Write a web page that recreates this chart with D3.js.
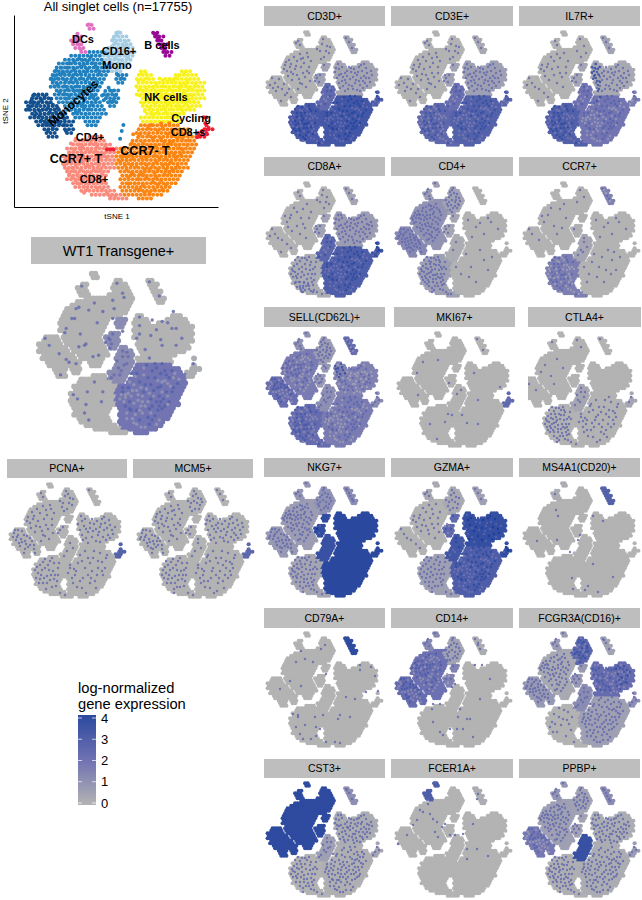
<!DOCTYPE html>
<html>
<head>
<meta charset="utf-8">
<script src="https://cdn.jsdelivr.net/npm/d3@7"></script>
<style>
  body { margin: 0; background: white; }
  text { font-family: "Liberation Sans", Arial, sans-serif; fill: black; }
</style>
</head>
<body>
<div id="wrapper"></div>
<script>
// tSNE map, one character per patch of cells
// l left monocytes, m monocytes, i CD16+ mono, j small island, d DCs, b B cells,
// n NK, s spike next to the T cells, c cycling CD8+, r CCR7+ T, o CCR7- T
const cellRows = [
  "...............dd",
  "...............dd",
  "......................ii.......bb",
  "............dd.......iiii......bbb",
  "...........ddd.......iiiii......bb",
  "...........ddd.......iiiii......bbb",
  "............ddd.....iiiiiii......bb",
  ".............ddmmmmmiiiiiii......bbb",
  "...........mmmmmmmmiiiiiiii.......bb",
  ".........mmmmmmmmmmiiiiiii",
  "........mmmmmmmmmmmmiiiiii",
  ".......mmmmmmmmmmmmmmiiii",
  ".......mmmmmmmmmmmmmmiii....nn........nnn",
  "......mmmmmmmmmmmmmm..jjj..nnnn.....nnnnnn",
  "......mmmmmmmmmmmmmm..jjj..nnnnn..nnnnnnnnn",
  "......mmmmmmmmmmmmm...jj...nnnnnnnnnnnnnnnnn",
  "......mmmmmmmmmmmmm........nnnnnnnnnnnnnnnnn",
  ".......mmmmmmmmmmm..jjj....nnnnnnnnnnnnnnnnn",
  "..llll.mmmmmmmmmmm.jjjj....nnnnnnnnnnnnnnnnn",
  ".lllll.mmmmmmmmmmm.jjjj.....nnnnnnnnnnnnnnnn",
  "lllllll.mmmmmmmmmmm.jjj.....nnnnnnnnnnnnnnn",
  "llllllll.mmmmmmmmmm.jj.ss...nnnnnnnnnnnnnnn",
  "lllllllll.mmmmmmmmmm...ssss..nnnnnnnnnnnnn",
  ".lllllllll.mmmmmmmmm..sssss..nnnnnnnnnn",
  ".llllllllll.mmmmmmm...sssss.nnnnnnnnnn......c",
  "..llllllllll..mmmm....sssss.nnnnnnnnnn",
  "...lllllllll...mmm....sssss.oooooooooo......c",
  "....llll.lll.........sssss.ooooooooooooo...ccc",
  ".....lll..ll........ssssss.oooooooooooooo.ccc",
  ".....lll.......rrrr.sssss..ooooooooooooooocc",
  "............rrrrrrrrsssss.oooooooooooooooo",
  "...........rrrrrrrrrrsss.ooooooooooooooooo",
  "..........rrrrrrrrrrrrrooooooooooooooooooo",
  "..........rrrrrrrrrrrrooooooooooooooooooo",
  ".........rrrrrrrrrrrrrooooooooooooooooooo",
  ".........rrrrrrrrrrrrroooooooooooooooooo",
  ".........rrrrrrrrrrrrroooooooooooooooooo",
  ".........rrrrrrrrrrrrroooooooooooooooooo",
  "..........rrrrrrrrrrr..oooooooooooooooo",
  "..........rrrrrrrrrr...ooooooooooooooo",
  "..........rrrrrrrrrr...ooooooooooooooo",
  "...........rrrrrrrrr...oooooooooooooo",
  "............rrrrrrrrr..ooooooooooooo",
  ".............rrrrrrrrr.oooooooooooo",
  "................rrrrrrrroooooooooo",
  "....................rrrrr..oooo",
]

const regionKeys = ["l", "m", "i", "j", "d", "b", "n", "s", "c", "r", "o"]
const regionColors = ["#13508f", "#2180bd", "#a4cde4", "#2180bd", "#e070c0", "#960a96", "#f8f21c", "#2180bd", "#f21c34", "#f98a7c", "#fb8512"]

// approximate positions of positive cells in each cluster, x,y in small panel pixels
const speckleL = [8,52,15,58,5,47,20,62,11,56,24,66,14,70,3,54,17,53,9,60,22,58,12,48,6,57,18,64,14,52,25,70,10,63,4,50,20,55,15,66,8,47,12,59,24,62,16,61,7,54,19,58,13,65,2,56,10,50,21,65,16,49,6,60,14,55,17,68,9,57,23,60,11,66,5,52,18,56,13,62]
const speckleM = [24,33,36,27,30,44,42,36,20,40,33,52,40,22,27,26,38,46,18,34,34,36,25,49,44,30,30,30,21,45,39,56,23,36,36,42,33,23,42,42,28,38,17,38,37,32,32,48,26,43,43,50,31,58,41,26,22,29,35,53,19,31,29,35,40,40,34,28,24,41,37,59,45,33,27,47,32,41,38,25,16,36,42,47,30,25,23,32,36,50,28,53,34,33,39,35,20,36,35,45,26,29,41,53,31,37,25,37,44,38,37,38,29,42,33,57,21,33,38,30,27,33,35,24,40,48,24,46,31,33,43,28,30,51,18,41,36,55,33,44]
const speckleI = [56,8,60,15,53,20,62,22,57,26,55,13,50,18,59,20,63,16,54,28,58,11,52,24,61,26,56,18,64,19,53,15,59,24,57,6,51,22,61,12,55,23,60,18,56,30,63,23,54,10,58,16,52,17,62,14,57,21,59,28]
const speckleJ = [50,47,53,44,48,50,52,51,57,34,49,44,55,47,51,42,59,36,54,50,47,47,56,33]
const speckleD = [31,10,33,14,29,12,39,1,32,7,34,17,30,9,32,12]
const speckleB = [79,7,82,11,85,17,80,8,83,14,86,19,81,10,84,15]
const speckleN = [80,45,95,40,72,38,88,52,102,47,76,55,92,36,84,41,98,52,70,47,86,58,100,42,78,49,94,47,74,43,90,44,82,54,105,44,96,57,72,52,87,38,68,41,93,54,78,60,99,37,83,48,75,36,90,59,103,51,80,40,97,45,71,33,86,46,76,46,94,34,89,49,82,36,100,55,73,57,91,41,78,42,104,40,85,55,96,50,69,37,88,42,81,58,93,60,75,50,99,47,84,37,72,44,92,50,97,33,79,52,87,61,102,43,74,33,90,37,83,44,77,58,95,55,70,43,86,52,100,50,81,46,94,42,89,56,73,48,98,40]
const speckleS = [60,60,57,68,63,65,54,73,60,56,59,70,64,60,56,63,52,75,61,66,58,73,63,57,56,70,60,63]
const speckleC = [110,65,108,70,112,68,106,73,109,61,111,72,105,74,110,69]
const speckleR = [35,85,45,92,28,90,40,78,33,100,48,85,30,82,42,104,37,93,26,95,44,80,50,110,35,76,47,98,31,92,39,87,29,100,43,88,36,106,25,87,48,92,33,79,40,97,55,112,38,82,27,84,46,103,34,95,42,75,30,96,44,96,37,100,49,80,32,87,41,92,36,110,28,78,46,87,39,104,24,92,33,104,45,100,31,75,43,83,35,90,47,108,29,94,38,76,41,101,26,89,34,82,50,87,37,97,44,107,30,86,42,95,32,98,48,102,36,88,40,83,27,98,46,95,38,108,33,91,43,78,31,102,39,93,35,80,52,112,45,85]
const speckleO = [75,85,88,78,65,92,92,88,70,72,80,100,60,85,96,75,84,68,73,95,87,92,68,80,78,75,63,100,90,70,82,88,72,105,58,90,95,85,76,110,85,98,66,88,80,80,92,79,70,98,88,85,62,95,75,68,83,75,67,104,93,92,78,92,60,82,86,105,72,78,97,72,81,95,64,86,90,95,74,88,79,108,69,74,85,82,94,81,66,98,77,83,88,65,71,91,83,102,62,89,99,79,74,100,87,72,67,84,91,85,76,95,81,70,65,78,84,92,70,108,93,75,73,82,78,103,59,87,88,97,68,93,82,84,75,73,86,88,63,104,96,82,71,87,79,97,90,77,66,72,84,108,77,66,61,92,89,90,73,110,95,70,69,101,80,90,85,77,64,82,92,94,76,80,72,98,87,81,68,107,83,65,79,86,91,73,74,92,65,97,100,76,81,105,70,84,86,95,62,87]
const speckleLists = [speckleL, speckleM, speckleI, speckleJ, speckleD, speckleB, speckleN, speckleS, speckleC, speckleR, speckleO]

const geneNames = ["CD3D+", "CD3E+", "IL7R+", "CD8A+", "CD4+", "CCR7+", "SELL(CD62L)+", "MKI67+", "CTLA4+", "NKG7+", "GZMA+", "MS4A1(CD20)+", "CD79A+", "CD14+", "FCGR3A(CD16)+", "CST3+", "FCER1A+", "PPBP+", "PCNA+", "MCM5+", "WT1 Transgene+"]

// expression level of the cluster as a whole, same order as regionKeys
const geneFill = [
  [0,0,0,.5,0,.5,.4,2.4,3,3.2,3.3],
  [0,0,0,.5,0,.3,.6,2.2,2.6,2.5,2.8],
  [0,0,0,.4,0,.5,.3,2,1.6,2.9,1.9],
  [0,0,0,.5,0,.4,.7,2.6,3.5,.2,3],
  [1.3,1,.5,.4,.7,0,0,.2,0,.6,0],
  [0,0,0,.1,0,1.5,0,.4,0,1.6,0],
  [2.2,1.7,.7,.8,1,2.2,1.5,1.1,1.2,2.3,1.7],
  [0,0,0,0,0,0,0,0,2.4,0,0],
  [0,0,0,0,0,0,0,.4,.4,0,0],
  [.8,.7,1,3.8,.9,1.2,4,3.6,4,.4,4],
  [0,0,.3,2.4,.3,.6,3.7,3.3,3.8,.6,3],
  [0,0,0,0,.2,2.8,0,0,0,0,0],
  [0,0,0,0,0,3.9,0,0,0,0,0],
  [2.3,2.1,.5,1.5,1.3,.2,0,0,0,0,0],
  [.8,.3,2.6,.8,.7,.5,2.3,1.2,1.1,0,.6],
  [3.9,3.9,3.9,3.9,3.9,1.1,.2,.6,.4,0,.1],
  [0,0,0,0,3,.2,0,0,0,0,0],
  [1.8,.6,.5,.5,.9,1.2,.2,3.6,.7,.1,.2],
  [0,0,0,0,0,0,0,0,2.8,0,0],
  [0,0,0,0,0,0,0,0,2.5,0,0],
  [0,0,0,1.2,0,0,0,1.2,.2,0,1.9],
]

// how many single positive cells stand out in each cluster
const geneSpeckle = [
  [14,35,10,6,3,3,55,12,6,70,100],
  [12,30,10,6,3,3,55,12,6,70,100],
  [8,22,5,5,2,3,50,12,5,70,100],
  [8,18,8,6,2,3,60,12,6,50,100],
  [40,70,25,6,6,0,8,2,0,70,10],
  [3,10,3,1,0,6,8,6,0,70,16],
  [40,70,25,10,6,8,70,10,5,70,100],
  [0,0,0,0,0,0,0,0,0,0,0],
  [2,6,2,0,1,1,0,8,2,65,50],
  [30,65,20,4,4,6,0,0,0,55,0],
  [6,26,14,8,3,3,40,6,3,45,100],
  [0,0,0,0,0,0,0,0,0,0,0],
  [0,0,0,0,0,0,0,0,0,0,0],
  [40,70,20,8,5,2,0,0,0,0,0],
  [35,60,25,8,5,4,70,10,5,18,85],
  [0,0,0,0,0,4,68,10,4,55,95],
  [0,0,0,0,0,0,0,0,0,0,0],
  [40,65,22,8,5,6,65,0,4,60,90],
  [25,30,12,3,2,1,40,4,0,35,38],
  [28,35,15,4,2,3,45,5,0,40,45],
  [4,8,3,4,1,1,10,12,1,5,100],
]

// single cells that can be read in the sparse panels
const extraDots = {
  "IL7R+": [68,36,70,40,72,33,74,38,70,45,73,50,68,42,75,44,72,47,76,36,74,54,71,37,69,48,73,41,76,51,74,60,76,66,73,70,71,44,75,58],
  "CD8A+": [32,100,36,104,30,105,38,108,41,103,34,108,44,109,28,101,37,101,42,107,33,106,46,110,35,110],
  "SELL(CD62L)+": [68,34,71,36,74,32,70,40,73,42,76,38,69,37,72,45,75,35,78,41],
  "MKI67+": [25,30,40,28,19,41,76,41,51,51,20,63,63,58,59,62,80,68,32,92,54,83,64,83,69,91,80,92,39,107,102,55,79,7,85,18,47,90,50,82],
  "MS4A1(CD20)+": [32,28,34,34,69,34,79,39,13,59,33,58,54,58,56,53,46,70,48,96,49,107,64,104,74,110,89,95,69,82,61,108,31,12],
  "CD79A+": [34,19,38,27,29,30,46,30,59,42,54,17,58,13,23,49,34,54,13,57,93,33,93,38,104,35,108,44,99,60,111,59,79,65,88,67,73,83,71,87,83,85,31,83,31,85,26,82,29,95,38,93,49,95,44,107,36,107,33,102,53,97,49,104,68,110,73,111,59,110,56,83,48,85],
  "CD14+": [37,72,44,72,74,87,71,87,84,67,79,33,86,33,94,47,54,97,61,97,67,97,44,100,47,103,37,90,62,85,64,77,56,55,59,52,77,105,82,13,84,17,36,77],
  "FCGR3A(CD16)+": [96,36,100,40,104,44,98,46,102,50,94,42,106,40,100,34,97,52,103,38,92,37,95,48,60,10,63,14,58,16,62,20,56,20],
  "FCER1A+": [27,30,37,37,34,32,21,38,17,43,24,28,31,18,32,22,41,40,49,42,46,45,39,50,42,55,2,62,11,53,54,53,59,53,67,52,71,67,81,67,71,77,92,74,81,17,82,12,39,0,77,42],
  "WT1 Transgene+": [29,25,46,28,54,26,26,33,19,43,34,51,29,53,39,60,43,59,60,42,72,32,98,40,87,48,72,44,79,61,88,35,81,34,96,28,16,73,22,64,27,65,34,94,25,87,36,105,46,85,61,18,86,17,51,48,51,54,53,33],
}
// in these panels the listed cells are the darkest ones
const strongExtraGenes = ["IL7R+", "SELL(CD62L)+", "FCGR3A(CD16)+"]

// a few strays in the all cells panel, x,y then cluster
const mainStrays = [[50, 82, "c"], [52, 82, "c"], [54, 82, "c"], [60, 66, "m"], [59, 70, "m"], [58, 75, "m"]]

const legendTicks = [0, 1, 2, 3, 4]
const colorLevels = [0, 2, 4]
const colorStops = ["#b3b3b3", "#7072b2", "#2b499f"]

const mainLabels = [
  ["DCs", 83, 39, 11], ["CD16+", 119, 51, 11], ["Mono", 117, 65, 11], ["B cells", 162, 45, 11],
  ["NK cells", 166, 97, 11], ["Cycling", 191, 118, 11], ["CD8+s", 188, 132, 11], ["CD4+", 90, 137, 11],
  ["CCR7+ T", 76, 159, 12.5], ["CCR7- T", 145, 151, 12.5], ["CD8+", 94, 179, 11],
]

// name, map left, map top, strip x0, x1, y0, y1
const panels = [
  ["CD3D+", 267, 31, 264, 385, 6, 26], ["CD3E+", 396, 31, 391, 513, 6, 26], ["IL7R+", 524, 31, 519, 640, 6, 26],
  ["CD8A+", 267, 182, 264, 385, 157, 176], ["CD4+", 396, 182, 391, 513, 157, 176], ["CCR7+", 524, 182, 519, 640, 157, 176],
  ["SELL(CD62L)+", 267, 332, 264, 385, 307, 327], ["MKI67+", 398, 332, 394, 515, 307, 327], ["CTLA4+", 521, 332, 528, 641, 307, 327],
  ["NKG7+", 267, 482, 264, 385, 458, 477], ["GZMA+", 396, 482, 391, 513, 458, 477], ["MS4A1(CD20)+", 524, 482, 519, 640, 458, 477],
  ["CD79A+", 267, 632, 264, 385, 608, 628], ["CD14+", 396, 632, 391, 513, 608, 628], ["FCGR3A(CD16)+", 524, 632, 519, 640, 608, 628],
  ["CST3+", 267, 782, 264, 385, 759, 778], ["FCER1A+", 396, 782, 391, 513, 759, 778], ["PPBP+", 524, 782, 519, 640, 759, 778],
  ["PCNA+", 10, 483, 7, 127, 459, 478], ["MCM5+", 138, 483, 133, 253, 459, 478],
]

function drawFigure() {

  // 1. Prepare cells

  const cells = []
  cellRows.forEach((row, r) => {
    row.split("").forEach((key, c) => {
      if (key !== ".") cells.push({
        x: (c + 0.5) * 2.5 + (r % 2 ? 0.6 : -0.6),
        y: (r + 0.5) * 2.5,
        region: regionKeys.indexOf(key),
      })
    })
  })

  const colorScale = d3.scaleLinear().domain(colorLevels).range(colorStops)

  // 2. Draw canvas

  const wrapper = d3.select("#wrapper")
    .append("svg")
      .attr("width", 642)
      .attr("height", 900)

  // 3. All singlet cells panel

  const mainX = d3.scaleLinear().domain([-6.7, 117.7]).range([14, 218])
  const mainY = d3.scaleLinear().domain([-5.2, 119.2]).range([15, 207])

  const mainCells = cells.filter(d => regionKeys[d.region] !== "s")
  speckleLists.forEach((list, region) => {
    if (regionKeys[region] === "s") return
    for (let i = 0; i < list.length; i += 2) {
      mainCells.push({ x: list[i], y: list[i + 1], region })
    }
  })
  mainStrays.forEach(d => mainCells.push({ x: d[0], y: d[1], region: regionKeys.indexOf(d[2]) }))

  wrapper.append("g").selectAll("circle")
    .data(mainCells)
    .enter().append("circle")
      .attr("cx", d => mainX(d.x))
      .attr("cy", d => mainY(d.y))
      .attr("r", 2)
      .attr("fill", d => regionColors[d.region])

  wrapper.append("g")
      .attr("transform", "translate(0,207)")
      .call(d3.axisBottom(mainX).tickValues([]).tickSizeOuter(0))
  wrapper.append("g")
      .attr("transform", "translate(14,0)")
      .call(d3.axisLeft(mainY).tickValues([]).tickSizeOuter(0))

  wrapper.append("text")
      .attr("x", 118).attr("y", 11)
      .attr("text-anchor", "middle")
      .style("font-size", "13px")
      .text("All singlet cells (n=17755)")
  wrapper.append("text")
      .attr("x", 117).attr("y", 219)
      .attr("text-anchor", "middle")
      .style("font-size", "8px")
      .text("tSNE 1")
  wrapper.append("text")
      .attr("transform", "translate(8,111) rotate(-90)")
      .attr("text-anchor", "middle")
      .style("font-size", "8px")
      .text("tSNE 2")

  wrapper.append("g").selectAll("text")
    .data(mainLabels)
    .enter().append("text")
      .attr("x", d => d[1])
      .attr("y", d => d[2])
      .attr("dy", "0.35em")
      .attr("text-anchor", "middle")
      .style("font-size", d => d[3] + "px")
      .style("font-weight", "bold")
      .text(d => d[0])
  wrapper.append("text")
      .attr("transform", "translate(73,103) rotate(-42)")
      .attr("dy", "0.35em")
      .attr("text-anchor", "middle")
      .style("font-size", "12px")
      .style("font-weight", "bold")
      .text("Monocytes")

  // 4. Gene panels

  function drawMap(name, left, top, scale, clipLeft) {
    const g = geneNames.indexOf(name)
    const x = d3.scaleLinear().domain([0, 114]).range([left, left + 114 * scale])
    const y = d3.scaleLinear().domain([0, 114]).range([top, top + 114 * scale])
    const fill = geneFill[g]

    const dots = []
    speckleLists.forEach((list, region) => {
      for (let i = 0; i < geneSpeckle[g][region] && i * 2 < list.length; i++) {
        // dense clusters are mottled, so every other cell sits below the cluster level
        const level = fill[region] >= 1.5 && i % 2
          ? fill[region] - 1
          : Math.max(2.3, fill[region] + 0.9)
        dots.push({ x: list[i * 2], y: list[i * 2 + 1], level })
      }
    })
    const extra = extraDots[name] || []
    const extraLevel = strongExtraGenes.includes(name) ? 3.6 : 2.4
    for (let i = 0; i < extra.length; i += 2) {
      dots.push({ x: extra[i], y: extra[i + 1], level: extraLevel })
    }

    const panel = wrapper.append("g")
    if (clipLeft) {
      const id = "clip" + g
      wrapper.append("clipPath").attr("id", id)
        .append("rect")
          .attr("x", clipLeft).attr("y", top - 5)
          .attr("width", 642 - clipLeft).attr("height", 130)
      panel.attr("clip-path", `url(#${id})`)
    }

    panel.append("g").selectAll("circle")
      .data(cells)
      .enter().append("circle")
        .attr("cx", d => x(d.x))
        .attr("cy", d => y(d.y))
        .attr("r", 2.1 * scale)
        .attr("fill", d => colorScale(fill[d.region]))

    panel.append("g").selectAll("circle")
      .data(dots)
      .enter().append("circle")
        .attr("cx", d => x(d.x))
        .attr("cy", d => y(d.y))
        .attr("r", 1.2 * scale)
        .attr("fill", d => colorScale(d.level))
        .attr("opacity", 0.85)
  }

  function drawStrip(name, x0, x1, y0, y1, fontSize) {
    wrapper.append("rect")
        .attr("x", x0).attr("y", y0)
        .attr("width", x1 - x0).attr("height", y1 - y0)
        .attr("fill", "#bebebe")
    wrapper.append("text")
        .attr("x", (x0 + x1) / 2)
        .attr("y", (y0 + y1) / 2)
        .attr("dy", "0.36em")
        .attr("text-anchor", "middle")
        .style("font-size", fontSize + "px")
        .text(name)
  }

  panels.forEach(p => {
    drawMap(p[0], p[1], p[2], 1, p[0] === "CTLA4+" ? 528 : 0)
    drawStrip(p[0], p[3], p[4], p[5], p[6], 10.5)
  })

  drawMap("WT1 Transgene+", 38, 272, 1.41, 0)
  drawStrip("WT1 Transgene+", 31, 206, 237, 264, 14.5)

  // 5. Legend

  const legendY = d3.scaleLinear().domain([0, 4]).range([803, 718])

  const gradient = wrapper.append("defs").append("linearGradient")
      .attr("id", "legend-gradient")
      .attr("x1", 0).attr("x2", 0).attr("y1", 1).attr("y2", 0)
  colorLevels.forEach((level, i) => {
    gradient.append("stop")
        .attr("offset", level / 4)
        .attr("stop-color", colorStops[i])
  })

  wrapper.append("rect")
      .attr("x", 78).attr("y", 715)
      .attr("width", 18).attr("height", 90)
      .attr("fill", "url(#legend-gradient)")

  const legendAxis = wrapper.append("g")
      .attr("transform", "translate(96,0)")
      .call(d3.axisRight(legendY).tickValues(legendTicks).tickSize(0).tickPadding(5).tickFormat(d3.format("d")))
  legendAxis.select(".domain").remove()
  legendAxis.selectAll("text")
      .style("font-size", "13px")
      .style("font-family", "\"Liberation Sans\", Arial, sans-serif")

  legendTicks.forEach(t => {
    wrapper.append("line")
        .attr("x1", 78).attr("x2", 82)
        .attr("y1", legendY(t)).attr("y2", legendY(t))
        .attr("stroke", "white").attr("opacity", 0.7)
    wrapper.append("line")
        .attr("x1", 92).attr("x2", 96)
        .attr("y1", legendY(t)).attr("y2", legendY(t))
        .attr("stroke", "white").attr("opacity", 0.7)
  })

  wrapper.append("text")
      .attr("x", 78).attr("y", 693)
      .style("font-size", "14.7px")
      .text("log-normalized")
  wrapper.append("text")
      .attr("x", 78).attr("y", 708.5)
      .style("font-size", "14.7px")
      .text("gene expression")
}
drawFigure()
</script>
</body>
</html>
